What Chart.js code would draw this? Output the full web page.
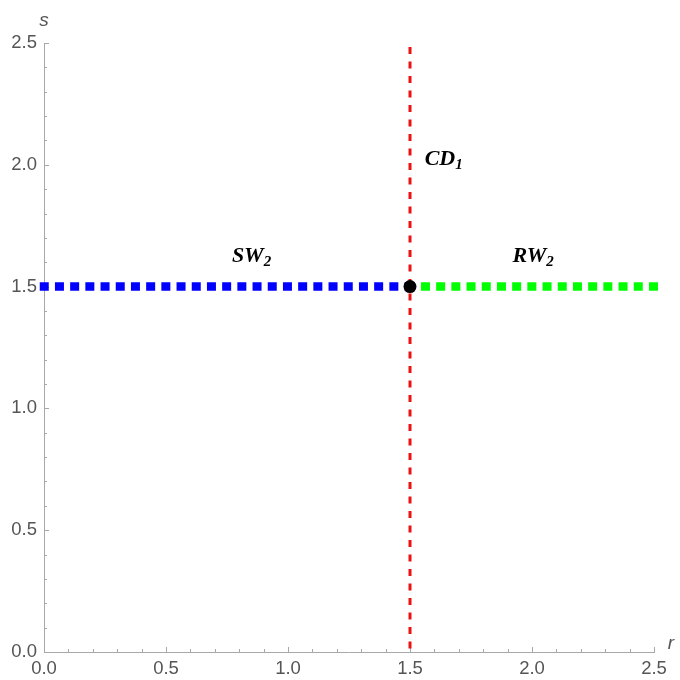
<!DOCTYPE html>
<html lang="en">
<head>
    <meta charset="UTF-8">
    <title>SW2 / RW2 / CD1 regions</title>
    <script src="https://cdn.jsdelivr.net/npm/chart.js@4.4.0/dist/chart.umd.min.js"></script>
    <style>
        body {
            margin: 0;
            background: #ffffff;
        }

        .chart-container {
            position: relative;
            width: 680px;
            height: 680px;
        }
    </style>
</head>
<body>
    <div class="chart-container">
        <canvas id="phaseChart"></canvas>
    </div>

    <script>
        // Data
        const swLineR = [0, 1.5];
        const swLineS = [1.5, 1.5];
        const rwLineR = [1.5, 2.5];
        const rwLineS = [1.5, 1.5];
        const cdLineR = [1.5, 1.5];
        const cdLineS = [2.5, 0];
        const pointR = [1.5];
        const pointS = [1.5];

        const majorTicks = [0, 0.5, 1.0, 1.5, 2.0, 2.5];
        const minorStep = 0.1;

        // region labels: main text, subscript, r, s (left edge / baseline)
        const regionNames = ['SW', 'CD', 'RW'];
        const regionSubs = ['2', '1', '2'];
        const regionR = [0.77, 1.56, 1.92];
        const regionS = [1.60, 2.00, 1.60];

        const toPoints = (xs, ys) => xs.map((x, i) => ({ x: x, y: ys[i] }));

        // Mathematica-like inward ticks, axis names and region labels
        const decorations = {
            id: 'decorations',
            beforeDatasetsDraw(chart) {
                const ctx = chart.ctx;
                const xs = chart.scales.x;
                const ys = chart.scales.y;
                const area = chart.chartArea;
                ctx.save();
                ctx.strokeStyle = '#a8a8a8';
                ctx.lineWidth = 1;
                for (let i = 0; i <= 25; i++) {
                    const v = i * minorStep;
                    const major = i % 5 === 0;
                    const len = major ? 5 : 3;
                    const px = Math.round(xs.getPixelForValue(v)) + 0.5;
                    ctx.beginPath();
                    ctx.moveTo(px, area.bottom);
                    ctx.lineTo(px, area.bottom - len);
                    ctx.stroke();
                    const py = Math.round(ys.getPixelForValue(v)) + 0.5;
                    ctx.beginPath();
                    ctx.moveTo(area.left, py);
                    ctx.lineTo(area.left + len, py);
                    ctx.stroke();
                }
                ctx.restore();
            },
            afterDatasetsDraw(chart) {
                const ctx = chart.ctx;
                const xs = chart.scales.x;
                const ys = chart.scales.y;
                const area = chart.chartArea;
                ctx.save();

                // axis names
                ctx.fillStyle = '#555555';
                ctx.font = 'italic 19px "Liberation Sans", Arial, sans-serif';
                ctx.textAlign = 'center';
                ctx.textBaseline = 'middle';
                ctx.fillText('s', area.left, 21);
                ctx.fillText('r', area.right + 17, area.bottom - 8);

                // region labels
                ctx.fillStyle = '#000000';
                ctx.textAlign = 'left';
                ctx.textBaseline = 'alphabetic';
                regionNames.forEach((name, i) => {
                    const px = xs.getPixelForValue(regionR[i]);
                    const py = ys.getPixelForValue(regionS[i]);
                    ctx.font = 'italic bold 22px "Liberation Serif", "Times New Roman", serif';
                    ctx.fillText(name, px, py);
                    const w = ctx.measureText(name).width;
                    ctx.font = 'italic bold 15px "Liberation Serif", "Times New Roman", serif';
                    ctx.fillText(regionSubs[i], px + w, py + 4);
                });
                ctx.restore();
            }
        };

        const ctx = document.getElementById('phaseChart').getContext('2d');

        const chart = new Chart(ctx, {
            type: 'scatter',
            data: {
                datasets: [
                    {
                        label: 'SW2',
                        data: toPoints(swLineR, swLineS),
                        showLine: true,
                        borderColor: '#0000ff',
                        borderWidth: 8.5,
                        borderDash: [0.5, 14.7],
                        borderCapStyle: 'square',
                        pointRadius: 0,
                        clip: false,
                        order: 3
                    },
                    {
                        label: 'RW2',
                        data: toPoints(rwLineR, rwLineS),
                        showLine: true,
                        borderColor: '#00ff00',
                        borderWidth: 8.5,
                        borderDash: [0.5, 14.7],
                        borderCapStyle: 'square',
                        pointRadius: 0,
                        clip: false,
                        order: 3
                    },
                    {
                        label: 'CD1',
                        data: toPoints(cdLineR, cdLineS),
                        showLine: true,
                        borderColor: '#ee1111',
                        borderWidth: 3,
                        borderDash: [7, 7.5],
                        borderDashOffset: -4,
                        borderCapStyle: 'butt',
                        pointRadius: 0,
                        order: 2
                    },
                    {
                        label: 'point',
                        data: toPoints(pointR, pointS),
                        pointRadius: 6.5,
                        pointBackgroundColor: '#000000',
                        pointBorderColor: '#000000',
                        pointBorderWidth: 0,
                        order: 1
                    }
                ]
            },
            options: {
                responsive: true,
                maintainAspectRatio: false,
                animation: false,
                layout: {
                    padding: { left: 0, right: 26, top: 43, bottom: 0 }
                },
                plugins: {
                    legend: { display: false },
                    tooltip: { enabled: false }
                },
                scales: {
                    x: {
                        type: 'linear',
                        min: 0,
                        max: 2.5,
                        afterFit: s => { s.height = 28; },
                        afterBuildTicks: s => { s.ticks = majorTicks.map(v => ({ value: v })); },
                        grid: { drawOnChartArea: false, drawTicks: false },
                        border: { display: true, color: '#a8a8a8', width: 1 },
                        ticks: {
                            padding: 6,
                            color: '#555555',
                            font: { size: 18.5, family: '"Liberation Sans", Arial, sans-serif' },
                            maxRotation: 0,
                            callback: v => v.toFixed(1)
                        }
                    },
                    y: {
                        type: 'linear',
                        min: 0,
                        max: 2.5,
                        afterFit: s => { s.width = 44; },
                        afterBuildTicks: s => { s.ticks = majorTicks.map(v => ({ value: v })); },
                        grid: { drawOnChartArea: false, drawTicks: false },
                        border: { display: true, color: '#a8a8a8', width: 1 },
                        ticks: {
                            padding: 7,
                            color: '#555555',
                            font: { size: 18.5, family: '"Liberation Sans", Arial, sans-serif' },
                            callback: v => v.toFixed(1)
                        }
                    }
                }
            },
            plugins: [decorations]
        });
    </script>
</body>
</html>
